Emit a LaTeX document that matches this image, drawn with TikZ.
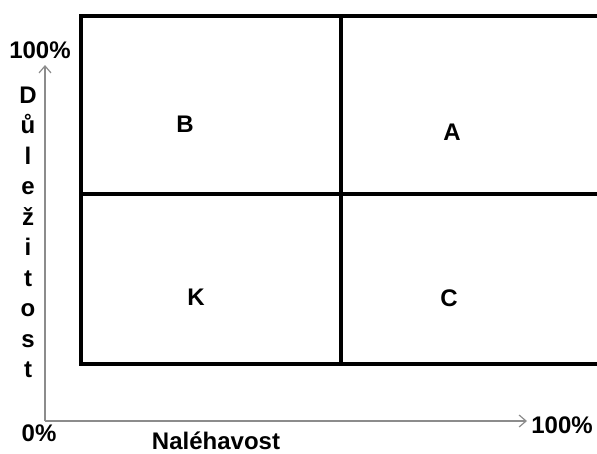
\documentclass[tikz,border=0pt]{standalone}
\usepackage{fontspec}
\setmainfont{Liberation Sans}
\usetikzlibrary{arrows.meta}
\begin{document}
\begin{tikzpicture}[x=1pt,y=-1pt,
  lbl/.style={font=\fontsize{24}{24}\selectfont\bfseries, inner sep=0pt, anchor=base},
  grid/.style={line width=3.4pt, draw=black},
  axis/.style={line width=1.3pt, draw=black!45, -{Straight Barb[length=7pt,width=12pt,line width=1.2pt]}}]
\useasboundingbox (0,0) rectangle (597,453);
\fill[white] (0,0) rectangle (597,453);
% grid
\coordinate (tl) at (81,16);
\coordinate (br) at (598.5,364);
\draw[grid] (tl) rectangle (br);
\coordinate (vt) at (341,16);
\coordinate (vb) at (341,364);
\coordinate (hl) at (81,194);
\coordinate (hr) at (598.5,194);
\draw[grid] (vt) -- (vb);
\draw[grid] (hl) -- (hr);
% axes
\coordinate (o) at (45,421);
\coordinate (ytop) at (45,65);
\coordinate (xend) at (527,421);
\draw[axis] (o) -- (ytop);
\draw[axis] (o) -- (xend);
% axis labels
\node[lbl] (y100) at (40,58) {100\%};
\node[lbl] (zero) at (39,441) {0\%};
\node[lbl] (x100) at (562,433) {100\%};
\node[lbl] (nal) at (216,449) {Naléhavost};
% vertical word
\foreach \ch [count=\i from 0] in {D,ů,l,e,ž,i,t,o,s,t} {
  \node[lbl] (v\i) at (28,{103+30.55*\i}) {\ch};
}
% quadrant labels
\node[lbl] (B) at (185,132) {B};
\node[lbl] (A) at (452,140) {A};
\node[lbl] (K) at (196,305) {K};
\node[lbl] (C) at (449,306) {C};
\end{tikzpicture}
\end{document}
